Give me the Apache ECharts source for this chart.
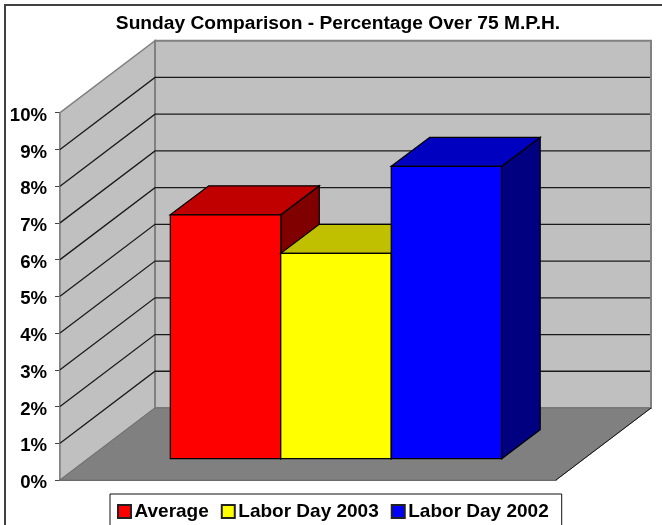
<!DOCTYPE html>
<html>
<head>
<meta charset="utf-8">
<title>Sunday Comparison</title>
<script src="https://cdn.jsdelivr.net/npm/echarts@6/dist/echarts.min.js"></script>
<style>
html, body { margin: 0; padding: 0; background: #fff; }
#chart { width: 662px; height: 525px; }
</style>
</head>
<body>
<div id="chart"></div>
<script>
var titleText = 'Sunday Comparison - Percentage Over 75 M.P.H.';
var categories = ['Sunday'];
var seriesNames = ['Average', 'Labor Day 2003', 'Labor Day 2002'];
var seriesValues = [6.64, 5.59, 7.96];
var yTicks = [0, 1, 2, 3, 4, 5, 6, 7, 8, 9, 10];

// front, top, side of each box
var faceColors = [
	['#ff0000', '#c00000', '#800000'],
	['#ffff00', '#c0c000', '#808000'],
	['#0000ff', '#0000c0', '#000080']
];

var FONT = '"Liberation Sans", Arial, sans-serif';
// projection of the chart depth on screen
var WALL_DX = 95, WALL_DY = -72;
// bars stand part way into the floor
var BAR_OFF_DX = 28, BAR_OFF_DY = -21.3;
var BAR_DX = 38.5, BAR_DY = -29;
var GAP_RATIO = 1.49;

function poly(points, fill, stroke, lw) {
	return {
		type: 'polygon',
		shape: { points: points },
		style: { fill: fill, stroke: stroke, lineWidth: lw, lineJoin: 'miter' }
	};
}

function line(points, stroke, lw) {
	return {
		type: 'polyline',
		shape: { points: points },
		style: { fill: null, stroke: stroke, lineWidth: lw }
	};
}

function renderWalls(params, api) {
	var tick = api.value(0);
	var band = api.size([1, 0])[0];
	var p = api.coord([0, tick]);
	var x0 = p[0] - band / 2, x1 = p[0] + band / 2, y = p[1];
	var children = [];
	if (tick === yTicks[0]) {
		var top = api.coord([0, yTicks[yTicks.length - 1]])[1];
		// side wall, back wall, floor
		children.push(poly([[x0, y], [x0 + WALL_DX, y + WALL_DY], [x0 + WALL_DX, top + WALL_DY], [x0, top]], '#c0c0c0', '#808080', 1.5));
		children.push(poly([[x0 + WALL_DX, y + WALL_DY], [x1 + WALL_DX, y + WALL_DY], [x1 + WALL_DX, top + WALL_DY], [x0 + WALL_DX, top + WALL_DY]], '#c0c0c0', '#808080', 2));
		children.push(poly([[x0, y], [x0 + WALL_DX, y + WALL_DY], [x1 + WALL_DX, y + WALL_DY], [x1, y]], '#808080', '#707070', 1));
		children.push(line([[x1 + WALL_DX, y + WALL_DY], [x1, y]], '#111', 1));
	} else if (tick !== yTicks[yTicks.length - 1]) {
		children.push(line([[x0, y], [x0 + WALL_DX, y + WALL_DY], [x1 + WALL_DX - 1, y + WALL_DY]], '#1a1a1a', 1.3));
	}
	return { type: 'group', children: children };
}

function barRenderer(index) {
	return function (params, api) {
		var band = api.size([1, 0])[0];
		var barW = band / (seriesValues.length + GAP_RATIO);
		var base = api.coord([0, 0]);
		var head = api.coord([0, api.value(1)]);
		var left = base[0] + (index - seriesValues.length / 2) * barW + BAR_OFF_DX;
		var right = left + barW;
		var yb = base[1] + BAR_OFF_DY;
		var yt = head[1] + BAR_OFF_DY;
		var c = faceColors[index];
		return {
			type: 'group',
			children: [
				poly([[right, yt], [right + BAR_DX, yt + BAR_DY], [right + BAR_DX, yb + BAR_DY], [right, yb]], c[2], '#000', 1.2),
				poly([[left, yt], [left + BAR_DX, yt + BAR_DY], [right + BAR_DX, yt + BAR_DY], [right, yt]], c[1], '#000', 1.2),
				poly([[left, yt], [right, yt], [right, yb], [left, yb]], c[0], '#000', 1.2)
			]
		};
	};
}

var series = [{
	type: 'custom',
	name: 'walls',
	z: 1,
	silent: true,
	clip: false,
	renderItem: renderWalls,
	encode: { y: 0 },
	data: yTicks.map(function (t) { return [t]; })
}];

seriesNames.forEach(function (name, i) {
	series.push({
		type: 'custom',
		name: name,
		z: 2 + i,
		clip: false,
		renderItem: barRenderer(i),
		itemStyle: { color: faceColors[i][0], borderColor: '#222', borderWidth: 1 },
		encode: { x: 0, y: 1 },
		data: [[0, seriesValues[i]]]
	});
});

var chart = echarts.init(document.getElementById('chart'), null, { renderer: 'canvas' });
chart.setOption({
	animation: false,
	backgroundColor: '#fff',
	title: {
		text: titleText,
		left: 333,
		top: 9,
		textAlign: 'center',
		textStyle: { fontFamily: FONT, fontSize: 19.2, fontWeight: 'bold', color: '#000' }
	},
	legend: {
		data: seriesNames,
		left: 110,
		top: 494,
		padding: [8, 13, 20, 7],
		itemWidth: 13,
		itemHeight: 13,
		itemGap: 12,
		icon: 'rect',
		backgroundColor: '#fff',
		borderColor: '#111',
		borderWidth: 1,
		selectedMode: false,
		textStyle: { fontFamily: FONT, fontSize: 19, fontWeight: 'bold', color: '#000', padding: [0, 0, 0, -1.5] }
	},
	grid: { left: 60, top: 112.7, width: 496, height: 367.3 },
	xAxis: {
		type: 'category',
		data: categories,
		axisLabel: { show: false },
		axisTick: { show: false },
		axisLine: { show: true, lineStyle: { color: '#333', width: 1.5 } }
	},
	yAxis: {
		type: 'value',
		min: 0,
		max: 10,
		interval: 1,
		splitLine: { show: false },
		axisLine: { show: true, lineStyle: { color: '#666', width: 1.5 } },
		axisTick: { show: true, length: 5, lineStyle: { color: '#444' } },
		axisLabel: {
			margin: 13,
			verticalAlign: 'top',
			lineHeight: 6,
			formatter: '{value}%',
			fontFamily: FONT,
			fontSize: 18.6,
			fontWeight: 'bold',
			color: '#000'
		}
	},
	graphic: [{
		type: 'rect',
		z: 0,
		shape: { x: 5, y: 5, width: 700, height: 600 },
		style: { fill: 'transparent', stroke: '#404040', lineWidth: 2 }
	}],
	series: series
});
</script>
</body>
</html>
